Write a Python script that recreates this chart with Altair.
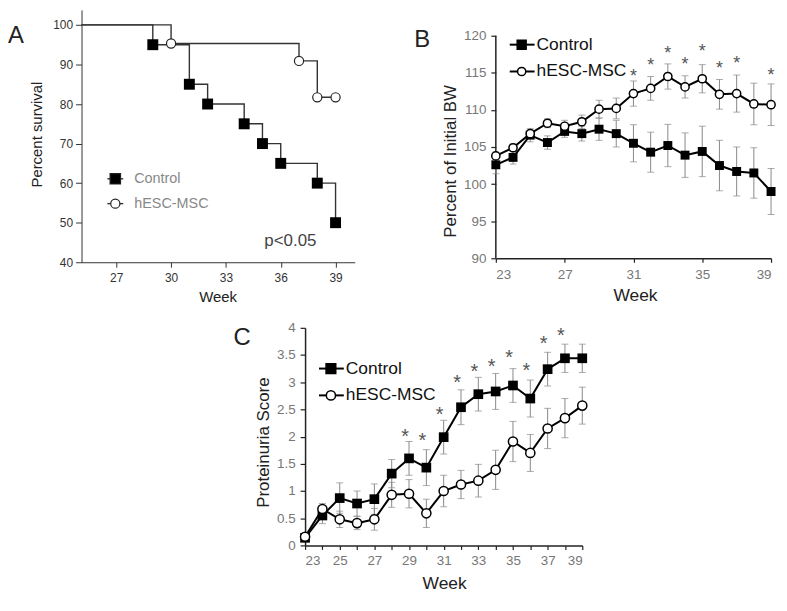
import altair as alt
import pandas as pd

FONT = "Liberation Sans"

# ---------------- Panel A: survival ----------------
series = ["Control", "hESC-MSC"]
surv_ctrl_week = [23, 29, 31, 32, 34, 35, 36, 38, 39]
surv_ctrl_pct = [100, 95, 85, 80, 75, 70, 65, 60, 50]
surv_msc_week = [23, 30, 37, 38, 39]
surv_msc_pct = [100, 95.3, 90.9, 81.7, 81.7]
surv_x_ticks = [27, 30, 33, 36, 39]
surv_y_ticks = [40, 50, 60, 70, 80, 90, 100]
p_text = ["p<0.05"]

# ---------------- Panel B: body weight ----------------
weeks = list(range(23, 40))
bw_ctrl = [102.6, 103.6, 106.6, 105.6, 107.1, 106.8, 107.4, 106.8, 105.5, 104.3,
           105.2, 103.9, 104.4, 102.5, 101.7, 101.5, 99.0]
bw_ctrl_err = [1.2, 0.9, 0.9, 0.9, 0.8, 1.0, 1.5, 1.8, 2.5, 2.7, 2.85, 3.0, 3.4,
               3.4, 3.3, 3.4, 3.1]
bw_msc = [103.8, 104.9, 106.8, 108.2, 107.8, 108.4, 110.1, 110.2, 112.2, 112.9,
          114.5, 113.1, 114.2, 112.1, 112.2, 110.8, 110.7]
bw_msc_err = [0.5, 0.5, 0.5, 0.6, 0.8, 0.9, 1.2, 1.4, 1.7, 1.6, 1.7, 1.5, 1.9,
              2.0, 2.5, 2.8, 2.8]
bw_star_week = [31, 32, 33, 34, 35, 36, 37, 39]
bw_star_y = [115.2, 116.6, 118.3, 116.7, 118.5, 116.2, 116.9, 115.3]
bw_y_ticks = [90, 95, 100, 105, 110, 115, 120]

# ---------------- Panel C: proteinuria ----------------
pu_ctrl = [0.14, 0.55, 0.87, 0.77, 0.85, 1.32, 1.60, 1.43, 1.99, 2.54, 2.78,
           2.83, 2.94, 2.70, 3.24, 3.44, 3.44]
pu_ctrl_err = [0.05, 0.15, 0.28, 0.23, 0.28, 0.26, 0.31, 0.33, 0.31, 0.32, 0.31,
               0.33, 0.31, 0.34, 0.31, 0.26, 0.26]
pu_msc = [0.16, 0.67, 0.48, 0.41, 0.48, 0.93, 0.95, 0.59, 1.00, 1.12, 1.19,
          1.39, 1.91, 1.70, 2.15, 2.34, 2.57]
pu_msc_err = [0.05, 0.10, 0.15, 0.12, 0.20, 0.23, 0.26, 0.26, 0.29, 0.26, 0.30,
              0.36, 0.37, 0.34, 0.37, 0.36, 0.34]
pu_star_week = [29, 30, 31, 32, 33, 34, 35, 36, 37, 38]
pu_star_y = [2.09, 2.01, 2.50, 3.08, 3.29, 3.37, 3.54, 3.30, 3.80, 3.94]
pu_y_ticks = [0, 0.5, 1, 1.5, 2, 2.5, 3, 3.5, 4]

panel_labels = ["A", "B", "C"]


def label_layer(text, x, y):
    return alt.Chart(pd.DataFrame({"t": [text]})).mark_text(
        align="left", baseline="middle", fontSize=24, color="#222"
    ).encode(text="t:N", x=alt.value(x), y=alt.value(y))


# ======== Panel A ========
ax_x_A = alt.Axis(values=surv_x_ticks, title="Week", titleFontSize=15,
                  titleFontWeight="normal", titleColor="#222", titleX=137,
                  titleY=35, titleBaseline="middle", labelFontSize=12,
                  labelColor="#333", tickSize=5, labelPadding=5,
                  domainColor="#333", tickColor="#333", grid=False)
ax_y_A = alt.Axis(values=surv_y_ticks, title="Percent survival", titleFontSize=15,
                  titleFontWeight="normal", titleColor="#222", titleX=-45,
                  titleY=125, titleBaseline="middle", labelFontSize=12,
                  labelColor="#333", tickSize=6, labelPadding=3,
                  domainColor="#333", tickColor="#333", grid=False)
sx_A = alt.Scale(domain=[25.1, 40.05], nice=False, zero=False)
sy_A = alt.Scale(domain=[40, 103.8], nice=False, zero=False)

surv_df = pd.concat([
    pd.DataFrame({"week": surv_ctrl_week, "pct": surv_ctrl_pct, "grp": series[0]}),
    pd.DataFrame({"week": surv_msc_week, "pct": surv_msc_pct, "grp": series[1]}),
], ignore_index=True)
surv_df["ev"] = surv_df["week"] > 23

base_A = alt.Chart(surv_df)
XA = alt.X("week:Q", scale=sx_A, axis=ax_x_A)
YA = alt.Y("pct:Q", scale=sy_A, axis=ax_y_A)
steps_A = base_A.mark_line(interpolate="step-after", color="#333", strokeWidth=1.4,
                           clip=True).encode(x=XA, y=YA, detail="grp:N")
pts_A_ctrl = base_A.transform_filter(alt.datum.ev).transform_filter(
    alt.datum.grp == series[0]).mark_point(
    shape="square", filled=True, color="black", size=121, opacity=1).encode(x=XA, y=YA)
pts_A_msc = base_A.transform_filter(alt.datum.ev).transform_filter(
    alt.datum.grp == series[1]).mark_point(
    shape="circle", filled=True, fill="white", stroke="#222", strokeWidth=1.2,
    size=85, opacity=1).encode(x=XA, y=YA)


def legend_A(name, y, shape, fill):
    d = pd.DataFrame({"t": [name]})
    seg = alt.Chart(d).mark_rule(color="#333", strokeWidth=1.4).encode(
        x=alt.value(26), x2=alt.value(42), y=alt.value(y))
    pt = alt.Chart(d).mark_point(
        shape=shape, filled=True, fill=fill, stroke="#222", strokeWidth=1.2,
        size=110 if shape == "square" else 85, opacity=1).encode(
        x=alt.value(34), y=alt.value(y))
    tx = alt.Chart(d).mark_text(
        align="left", baseline="middle", fontSize=14.5, color="#888").encode(
        text="t:N", x=alt.value(53), y=alt.value(y))
    return seg + pt + tx


p_A = alt.Chart(pd.DataFrame({"t": p_text})).mark_text(
    align="left", baseline="middle", fontSize=17, color="#444").encode(
    text="t:N", x=alt.value(184), y=alt.value(233))

chart_A = alt.layer(
    steps_A, pts_A_ctrl, pts_A_msc,
    legend_A(series[0], 170, "square", "black"),
    legend_A(series[1], 195, "circle", "white"),
    p_A, label_layer(panel_labels[0], -74, 26),
).properties(width=275, height=254)


# ======== Panels B and C ========
def line_panel(ctrl, ctrl_err, msc, msc_err, star_w, star_y, y_ticks, y_dom,
               y_title, width, height, title_x, title_y, week_title_y, lab_pad,
               msize_sq, msize_ci, leg_y, lab, lab_xy, star_dx, star_size,
               axis_rule=None):
    df = pd.concat([
        pd.DataFrame({"week": weeks, "v": ctrl, "e": ctrl_err, "grp": series[0]}),
        pd.DataFrame({"week": weeks, "v": msc, "e": msc_err, "grp": series[1]}),
    ], ignore_index=True)
    df["lo"] = df["v"] - df["e"]
    df["hi"] = df["v"] + df["e"]
    sx = alt.Scale(domain=[23, 39], nice=False, zero=False)
    sy = alt.Scale(domain=y_dom, nice=False, zero=False)
    ax_x = alt.Axis(values=weeks, labelExpr="datum.value % 2 == 1 ? datum.label : ''",
                    title="Week", titleFontSize=17.5, titleFontWeight="normal",
                    titleColor="#222", titleX=140, titleY=week_title_y,
                    titleBaseline="middle", labelFontSize=13.5, labelColor="#777",
                    tickSize=4, labelPadding=lab_pad, domainColor="#222",
                    domainWidth=1.5, tickColor="#222", tickWidth=1.2, grid=False)
    ax_y = alt.Axis(values=y_ticks, format="~g", title=y_title, titleFontSize=17,
                    titleFontWeight="normal", titleColor="#222", titleX=title_x,
                    titleY=title_y, titleBaseline="middle", labelFontSize=13.5,
                    labelColor="#777", tickSize=5, labelPadding=5,
                    domain=axis_rule is None, domainColor="#222", domainWidth=1.5,
                    tickColor="#222", tickWidth=1.2, grid=False)
    X = alt.X("week:Q", scale=sx, axis=ax_x)
    base = alt.Chart(df)
    err = base.mark_errorbar(ticks=True, size=7, thickness=1, color="#888").encode(
        x=X, y=alt.Y("lo:Q", scale=sy, axis=ax_y), y2="hi:Q", detail="grp:N")
    lines = base.mark_line(color="black", strokeWidth=2).encode(
        x=X, y=alt.Y("v:Q", scale=sy, axis=ax_y), detail="grp:N")
    p_ctrl = base.transform_filter(alt.datum.grp == series[0]).mark_point(
        shape="square", filled=True, color="black", size=msize_sq, opacity=1).encode(
        x=X, y=alt.Y("v:Q", scale=sy, axis=ax_y))
    p_msc = base.transform_filter(alt.datum.grp == series[1]).mark_point(
        shape="circle", filled=True, fill="white", stroke="black", strokeWidth=1.5,
        size=msize_ci, opacity=1).encode(
        x=X, y=alt.Y("v:Q", scale=sy, axis=ax_y))
    stars = alt.Chart(pd.DataFrame({"week": star_w, "y": star_y, "s": "*"})).mark_text(
        fontSize=star_size, color="#555", baseline="alphabetic",
        dy=0.57 * star_size, dx=star_dx).encode(
        x=X, y=alt.Y("y:Q", scale=sy, axis=ax_y), text="s:N")
    layers = [err, lines, p_ctrl, p_msc, stars]
    if axis_rule is not None:
        layers.insert(0, alt.Chart(pd.DataFrame({"t": [0]})).mark_rule(
            color="#222", strokeWidth=1.5).encode(
            x=alt.datum(23, scale=sx), y=alt.datum(axis_rule[0]),
            y2=alt.datum(axis_rule[1])))
    for name, yy, shape, fill, sz in [(series[0], leg_y[0], "square", "black", msize_sq),
                                      (series[1], leg_y[1], "circle", "white", msize_ci)]:
        d = pd.DataFrame({"t": [name]})
        layers.append(alt.Chart(d).mark_rule(color="black", strokeWidth=2).encode(
            x=alt.value(14), x2=alt.value(39), y=alt.value(yy)))
        layers.append(alt.Chart(d).mark_point(
            shape=shape, filled=True, fill=fill, stroke="black", strokeWidth=1.5,
            size=sz, opacity=1).encode(x=alt.value(26), y=alt.value(yy)))
        layers.append(alt.Chart(d).mark_text(
            align="left", baseline="middle", fontSize=17.5, color="#111").encode(
            text="t:N", x=alt.value(41), y=alt.value(yy)))
    layers.append(label_layer(lab, lab_xy[0], lab_xy[1]))
    return alt.layer(*layers).properties(width=width, height=height)


chart_B = line_panel(bw_ctrl, bw_ctrl_err, bw_msc, bw_msc_err, bw_star_week,
                     bw_star_y, bw_y_ticks, [90, 123.48], "Percent of Initial BW",
                     277, 250, -46, 152, 38, 5, 81, 68, (35, 62), panel_labels[1],
                     (-82, 30), 0, 18, axis_rule=(90, 120))

chart_C = line_panel(pu_ctrl, pu_ctrl_err, pu_msc, pu_msc_err, pu_star_week,
                     pu_star_y, pu_y_ticks, [0, 4], "Proteinuria Score",
                     279, 219, -42, 115, 38, 4, 95, 85, (41, 68), panel_labels[2],
                     (-72, 10), -4, 20)

spacer = alt.Chart(pd.DataFrame({"t": [0]})).mark_point(opacity=0).encode(
    x=alt.value(0), y=alt.value(0)).properties(width=25, height=10)

row1 = alt.hconcat(chart_A, chart_B, spacing=142, bounds="flush")
row2 = alt.hconcat(spacer, chart_C, spacing=200, bounds="flush")

chart = alt.vconcat(row1, row2, spacing=320, bounds="flush").properties(
    padding=0).configure(font=FONT).configure_view(strokeWidth=0)

chart.save("out.html", embed_options={"renderer": "svg", "actions": False})
